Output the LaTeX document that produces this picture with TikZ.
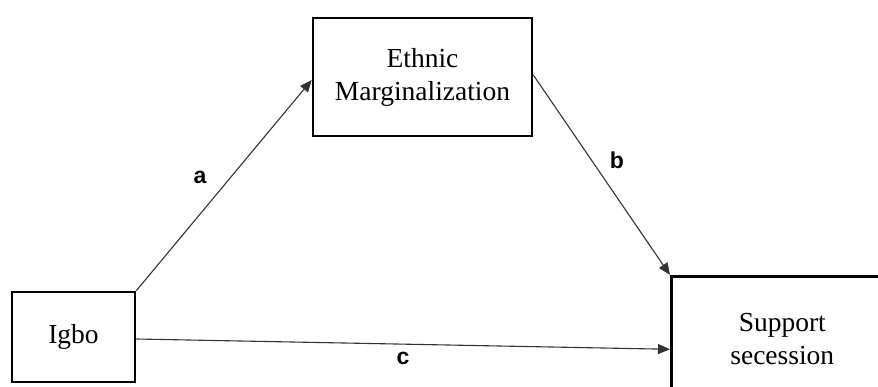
\documentclass[tikz,border=0pt]{standalone}
\usepackage{fontspec}
\setmainfont{Liberation Serif}
\newfontfamily\lblfont{Liberation Sans}
\usetikzlibrary{arrows.meta,calc}
\tikzset{
  varbox/.style={draw=black, line width=2.6pt, rectangle, align=center, inner sep=0pt, font=\fontsize{27.5}{33}\selectfont},
  patharrow/.style={draw=black!80, line width=1.1pt, -{Triangle[length=12pt,width=10pt]}},
  pathlabel/.style={font=\lblfont\bfseries\fontsize{23}{27}\selectfont}
}
\begin{document}
\begin{tikzpicture}[x=1pt,y=1pt]
\useasboundingbox (0,0) rectangle (878,387);
\begin{scope}
\clip (0,0) rectangle (878,387);
\node[varbox, minimum width=123pt, minimum height=90pt] (ig) at (73.5,50) {Igbo};
\node[varbox, minimum width=219pt, minimum height=118pt] (em) at (422.5,310) {Ethnic\\Marginalization};
\node[varbox, minimum width=222pt, minimum height=126pt, anchor=north west] (ss) at (670,112) {Support\\secession};
\end{scope}
\draw[patharrow] (ig.north east) -- ($(em.west)+(0,-3)$);
\draw[patharrow] ($(em.east)+(0,2)$) -- (ss.north west);
\draw[patharrow] ($(ig.east)+(0,-2)$) -- ($(ss.west)+(0,-10)$);
\node[pathlabel] (la) at (200,210) {a};
\node[pathlabel] (lb) at (617,227) {b};
\node[pathlabel] (lc) at (403,29) {c};
\end{tikzpicture}
\end{document}
